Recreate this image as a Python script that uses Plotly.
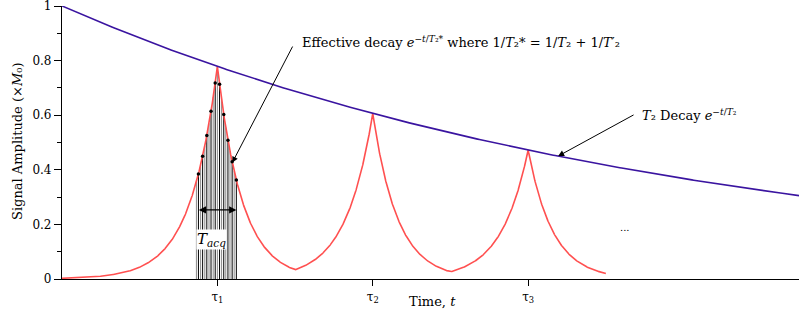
import numpy as np
import plotly.graph_objects as go

# Model parameters for the spin-echo signal
T2 = 4.0            # transverse relaxation time
T2_prime = 0.166    # dephasing time from field inhomogeneity
echo_times = [1, 2, 3]
echo_labels = ["τ<sub>1</sub>", "τ<sub>2</sub>", "τ<sub>3</sub>"]
echo_end = 3.5
t_max = 4.743

# Sampling points during the acquisition window around the first echo
acq_times = [0.878, 0.905, 0.932, 0.959, 0.986, 1.014, 1.041, 1.068, 1.095, 1.122]
fill_times = [0.865, 0.892, 0.919, 0.946, 0.973, 1.000, 1.027, 1.054, 1.081, 1.108]

y_ticks = [0, 0.2, 0.4, 0.6, 0.8, 1]
y_tick_text = ["0", "0.2", "0.4", "0.6", "0.8", "1"]

FONT = "DejaVu Serif"
RED = "#ff5050"
BLUE = "#3a14a0"


def t2_envelope(t):
    return np.exp(-np.asarray(t, dtype=float) / T2)


def echo_signal(t):
    t = np.asarray(t, dtype=float)
    taus = np.array(echo_times, dtype=float)
    nearest = taus[np.argmin(np.abs(t[:, None] - taus[None, :]), axis=1)]
    return np.exp(-t / T2) * np.exp(-np.abs(t - nearest) / T2_prime)


t_env = np.linspace(0, t_max, 400)
t_sig = np.union1d(np.linspace(0, echo_end, 2000),
                   np.array(echo_times + [1.5, 2.5], dtype=float))

fig = go.Figure()

# acquisition sample lines under the first echo
def stems(times, color, width):
    xs, ys = [], []
    vals = echo_signal(times)
    for t, v in zip(times, vals):
        xs += [t, t, None]
        ys += [0, v, None]
    fig.add_trace(go.Scatter(x=xs, y=ys, mode="lines",
                             line=dict(color=color, width=width),
                             hoverinfo="skip", showlegend=False))

stems(fill_times, "#8a8a8a", 1)
stems(acq_times, "#000000", 1)

fig.add_trace(go.Scatter(x=t_sig, y=echo_signal(t_sig), mode="lines",
                         line=dict(color=RED, width=1.6), showlegend=False,
                         cliponaxis=False))
fig.add_trace(go.Scatter(x=t_env, y=t2_envelope(t_env), mode="lines",
                         line=dict(color=BLUE, width=1.6), showlegend=False,
                         cliponaxis=False))
fig.add_trace(go.Scatter(x=acq_times, y=echo_signal(acq_times), mode="markers",
                         marker=dict(color="black", size=3.5), showlegend=False))

ann_font = dict(family=FONT, size=13, color="black")
annotations = [
    # effective decay label and arrow
    dict(x=1.534, y=0.868, xref="x", yref="y", xanchor="left", yanchor="middle",
         showarrow=False, font=ann_font,
         text="Effective decay <i>e</i><sup>−<i>t</i>/<i>T</i>₂*</sup> where "
              "1/<i>T</i>₂* = 1/<i>T</i>₂ + 1/<i>T</i>′₂"),
    dict(x=1.096, y=echo_signal([1.096])[0], ax=1.489, ay=0.857,
         xref="x", yref="y", axref="x", ayref="y", text="", showarrow=True,
         arrowhead=2, arrowsize=1.2, arrowwidth=1, arrowcolor="black"),
    # T2 decay label and arrow
    dict(x=3.72, y=0.60, xref="x", yref="y", xanchor="left", yanchor="middle",
         showarrow=False, font=ann_font,
         text="<i>T</i>₂ Decay <i>e</i><sup>−<i>t</i>/<i>T</i>₂</sup>"),
    dict(x=3.193, y=float(t2_envelope(3.193)), ax=3.688, ay=0.604,
         xref="x", yref="y", axref="x", ayref="y", text="", showarrow=True,
         arrowhead=2, arrowsize=1.2, arrowwidth=1, arrowcolor="black"),
    # acquisition window
    dict(x=acq_times[-1], y=0.253, ax=acq_times[0] - 0.007, ay=0.253,
         xref="x", yref="y", axref="x", ayref="y", text="", showarrow=True,
         arrowhead=2, arrowside="end+start", arrowsize=1.2, arrowwidth=1.2,
         arrowcolor="black"),
    dict(x=0.961, y=0.143, xref="x", yref="y", showarrow=False,
         text="<i>T</i><sub><i>acq</i></sub>", bgcolor="white", borderpad=0,
         font=dict(family=FONT, size=15, color="black")),
    dict(x=3.624, y=0.19, xref="x", yref="y", showarrow=False,
         text="...", font=dict(family=FONT, size=10, color="black")),
    # axis titles
    dict(x=0.503, y=-0.084, xref="paper", yref="paper", showarrow=False,
         text="Time, <i>t</i>", font=ann_font, yanchor="middle"),
    dict(x=-0.0597, y=0.502, xref="paper", yref="paper", showarrow=False,
         text="Signal Amplitude (×<i>M</i>₀)", textangle=-90,
         font=ann_font, xanchor="center", yanchor="middle"),
]

fig.update_layout(
    width=799, height=320,
    margin=dict(l=62, r=0, t=6, b=41),
    paper_bgcolor="white", plot_bgcolor="white",
    font=dict(family=FONT, size=12, color="black"),
    annotations=annotations,
    xaxis=dict(range=[0, t_max], showgrid=False, zeroline=False,
               showline=True, linecolor="black", linewidth=1.2,
               tickmode="array", tickvals=echo_times, ticktext=echo_labels,
               ticks="outside", ticklen=6, tickcolor="black",
               ticklabeloverflow="allow",
               tickfont=dict(family=FONT, size=12)),
    yaxis=dict(range=[0, 1], showgrid=False, zeroline=False,
               showline=True, linecolor="black", linewidth=1.2,
               tickmode="array", tickvals=y_ticks, ticktext=y_tick_text,
               ticks="outside", ticklen=7, tickcolor="black",
               ticklabeloverflow="allow",
               tickfont=dict(family=FONT, size=12),
               minor=dict(tickvals=[0.1, 0.3, 0.5, 0.7, 0.9], ticks="outside",
                          ticklen=4, tickcolor="black", showgrid=False)),
)

fig.write_html("out.html")
